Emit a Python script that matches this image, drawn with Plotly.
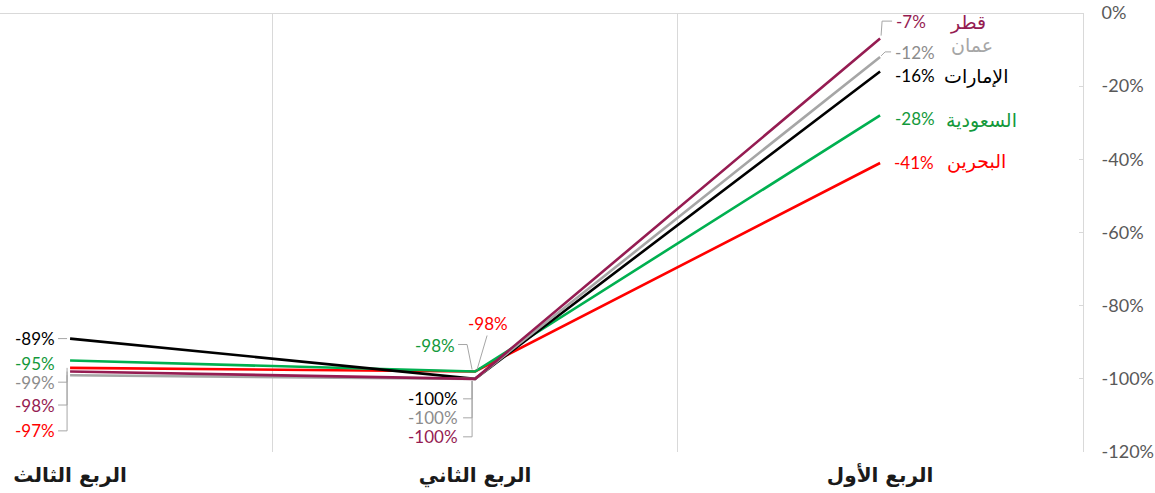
import plotly.graph_objects as go

quarters = ["الربع الأول", "الربع الثاني", "الربع الثالث"]
series_names = ["البحرين", "السعودية", "الإمارات", "عمان", "قطر"]
bahrain = [-41, -98, -97]
saudi = [-28, -98, -95]
uae = [-16, -100, -89]
oman = [-12, -100, -99]
qatar = [-7, -100, -98]
y_ticks = [0, -20, -40, -60, -80, -100, -120]

values = {"البحرين": bahrain, "السعودية": saudi, "الإمارات": uae, "عمان": oman, "قطر": qatar}
line_colors = {"البحرين": "#FF0000", "السعودية": "#00B050", "الإمارات": "#000000",
               "عمان": "#A6A6A6", "قطر": "#951C52"}
text_colors = {"البحرين": "#FF0000", "السعودية": "#13993B", "الإمارات": "#000000",
               "عمان": "#8C8C8C", "قطر": "#951C52"}
name_colors = {"البحرين": "#FF0000", "السعودية": "#13993B", "الإمارات": "#000000",
               "عمان": "#A6A6A6", "قطر": "#951C52"}

# label offsets in screen pixels (dx right, dy down) per quarter index
label_off = {
    "الإمارات": [(35, 3.5), (-42, 20), (-35, 0)],
    "السعودية": [(35, 2.6), (-40, -26.5), (-35, 2.5)],
    "عمان": [(35, -4), (-42, 39), (-35, 7)],
    "قطر": [(31, -17.5), (-42, 58), (-35, 33.5)],
    "البحرين": [(34, 0), (13, -48.5), (-35, 63)],
}
name_off = {"قطر": (88, -16.6), "عمان": (92, -12), "الإمارات": (96, 4.5),
            "السعودية": (101, 4.6), "البحرين": (96, -1)}
# leader paths (screen pixels relative to the point, y down)
leaders = {
    ("الإمارات", 2): [(-12, 0), (-3, 0)],
    ("عمان", 2): [(-12, 7), (-3, 7), (-3, 0)],
    ("قطر", 2): [(-12, 33.5), (-3, 33.5), (-3, 0)],
    ("البحرين", 2): [(-12, 63), (-3, 63), (-3, 0)],
    ("السعودية", 1): [(-17, -27), (-8, -27), (-3, -2)],
    ("البحرين", 1): [(12, -36), (2, -2)],
    ("الإمارات", 1): [(-12, 20), (-3, 20), (-3, 2)],
    ("عمان", 1): [(-12, 39), (-3, 39), (-3, 2)],
    ("قطر", 1): [(-12, 58), (-3, 58), (-3, 2)],
    ("قطر", 0): [(1, -3), (2, -17.5), (12, -17.5)],
    ("عمان", 0): [(1, -1), (5, -5), (11, -5)],
}

fig = go.Figure()
for name in series_names:
    fig.add_trace(go.Scatter(
        x=quarters, y=values[name], mode="lines", name=name,
        line=dict(color=line_colors[name], width=2.6), hoverinfo="skip", showlegend=False))

label_font = "Lato, 'Open Sans', sans-serif"
for name in series_names:
    for i, q in enumerate(quarters):
        v = values[name][i]
        dx, dy = label_off[name][i]
        fig.add_annotation(x=q, y=v, text=f"{v}%", showarrow=False,
                           xshift=dx, yshift=-dy, borderpad=0,
                           font=dict(family=label_font, size=17, color=text_colors[name]))
    dx, dy = name_off[name]
    fig.add_annotation(x=quarters[0], y=values[name][0], text=name, showarrow=False,
                       xshift=dx, yshift=-dy, borderpad=0,
                       font=dict(family="DejaVu Sans", size=19, color=name_colors[name]))

for (name, i), pts in leaders.items():
    path = "M " + " L ".join(f"{px},{-py}" for px, py in pts)
    fig.add_shape(type="path", path=path, xref="x", yref="y",
                  xsizemode="pixel", ysizemode="pixel",
                  xanchor=i, yanchor=values[name][i],
                  line=dict(color="#A6A6A6", width=1))

fig.update_layout(
    width=1155, height=493,
    margin=dict(l=0, r=72, t=13, b=41),
    paper_bgcolor="white", plot_bgcolor="white",
    showlegend=False,
)
fig.update_xaxes(
    type="category", categoryorder="array", categoryarray=quarters,
    range=[2.173, -0.501], tickson="boundaries", tickangle=0, automargin=False,
    showgrid=True, gridcolor="#D9D9D9", gridwidth=1,
    showline=False, zeroline=False, ticks="",
    tickfont=dict(family="DejaVu Sans", size=20, color="#1a1a1a", weight="bold"),
    ticklabelstandoff=9,
)
fig.update_yaxes(
    side="right", range=[-120, 0], tickvals=y_ticks, automargin=False,
    ticktext=[f"{t}%" for t in y_ticks],
    showgrid=False, zeroline=True, zerolinecolor="#D9D9D9", zerolinewidth=1,
    showline=True, linecolor="#D9D9D9", linewidth=1,
    ticks="inside", ticklen=4, tickcolor="#D9D9D9",
    tickfont=dict(family="Lato, 'Open Sans', sans-serif", size=18, color="#595959"),
    ticklabelstandoff=14,
)

fig.write_html("out.html", config={"displayModeBar": False},
               post_script="document.body.style.margin='0';")
